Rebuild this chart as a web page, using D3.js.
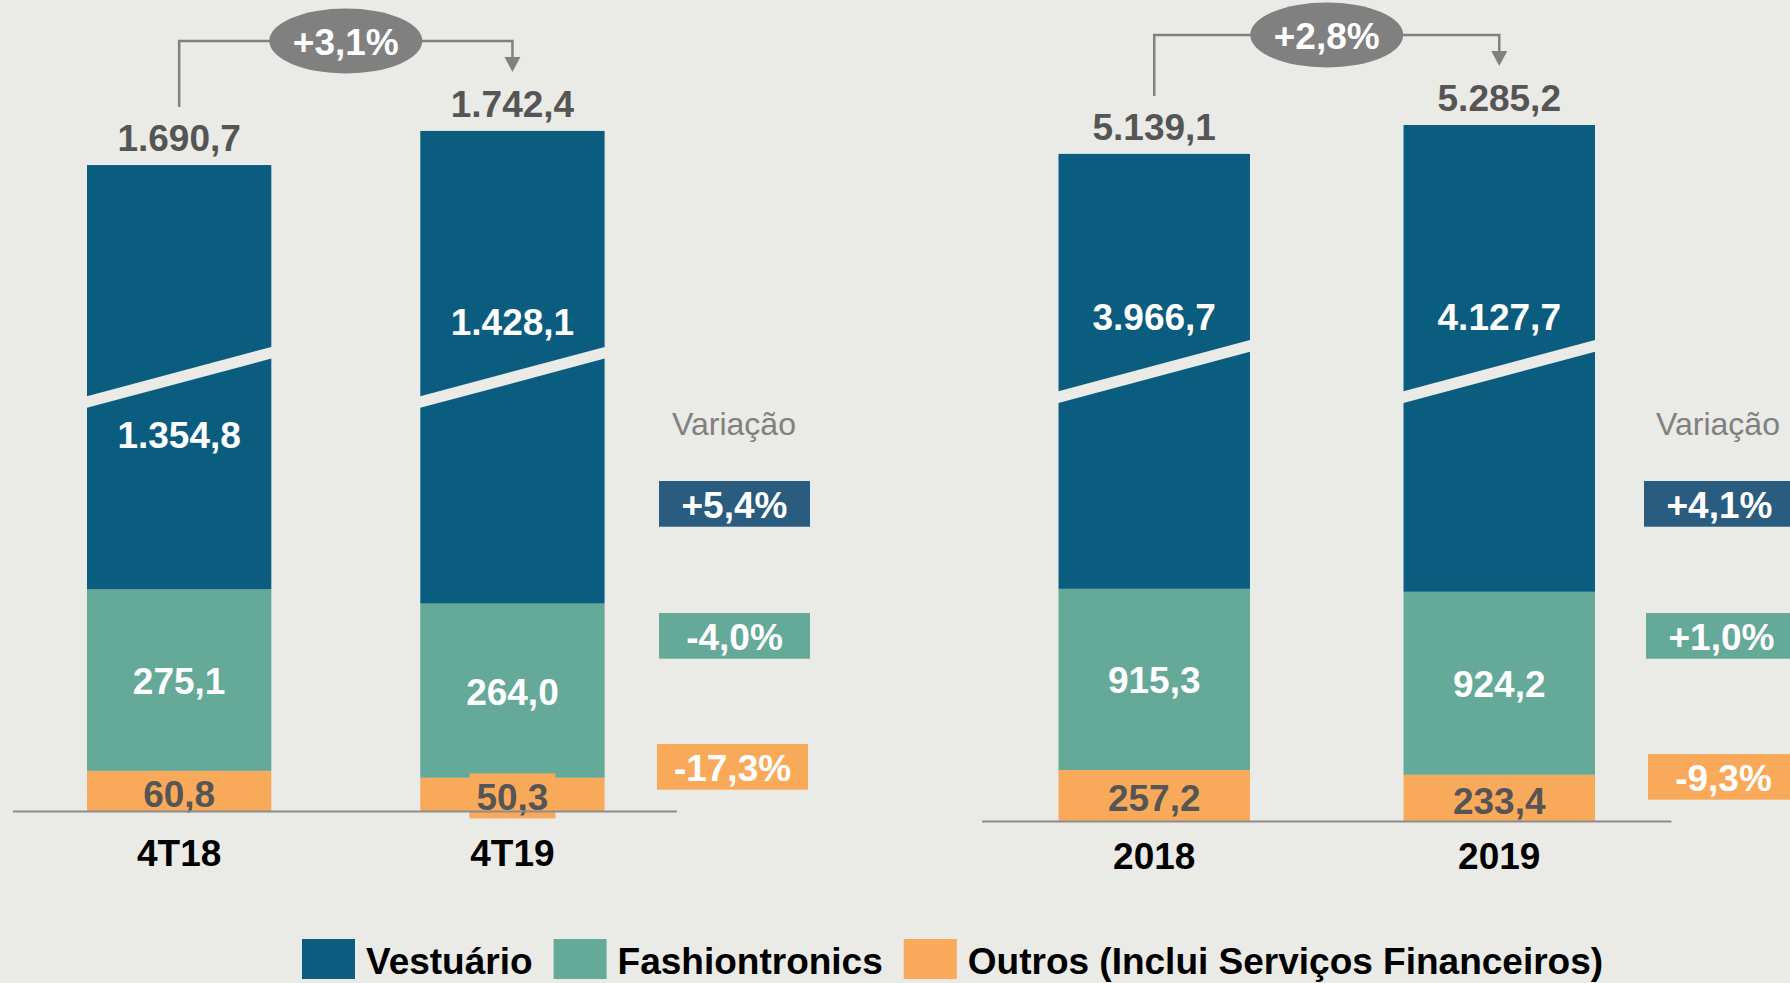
<!DOCTYPE html>
<html lang="pt">
<head>
    <meta charset="utf8">
    <script type="text/javascript" src="https://d3js.org/d3.v7.min.js"></script>
    <title>Receita bruta por segmento</title>
    <style>
        body { margin: 0; background: #eaeae6; }
        svg { display: block; }
    </style>
</head>
<body>
    <div class="chart"></div>
</body>
<script type="text/javascript">
    // dados
    var series = ["Vestuário", "Fashiontronics", "Outros (Inclui Serviços Financeiros)"];
    var colors = ["#0b5d80", "#65a998", "#f8aa5a"];
    var boxColors = ["#2a5c7f", "#65a998", "#f8aa5a"];

    var quarterCats = ["4T18", "4T19"];
    var quarterVest = [1354.8, 1428.1];
    var quarterFash = [275.1, 264.0];
    var quarterOutros = [60.8, 50.3];
    var quarterTotal = [1690.7, 1742.4];
    var quarterVar = ["+5,4%", "-4,0%", "-17,3%"];
    var quarterGrowth = "+3,1%";

    var yearCats = ["2018", "2019"];
    var yearVest = [3966.7, 4127.7];
    var yearFash = [915.3, 924.2];
    var yearOutros = [257.2, 233.4];
    var yearTotal = [5139.1, 5285.2];
    var yearVar = ["+4,1%", "+1,0%", "-9,3%"];
    var yearGrowth = "+2,8%";

    // SVG
    var width = 1790, height = 983;
    var fs = 37;
    var svg = d3.select("body div.chart")
        .append("svg")
        .attr("width", width)
        .attr("height", height)
        .style("background", "#eaeae6")
        .style("font-family", "Arial, 'Liberation Sans', sans-serif");

    var br = d3.formatLocale({decimal: ",", thousands: ".", grouping: [3], currency: ["R$", ""]});
    var fmt = br.format(",.1f");

    // paineis (eixo quebrado: valores entre breakAt e breakAt+cut ficam escondidos)
    var panels = [
        {cats: quarterCats, vest: quarterVest, fash: quarterFash, outros: quarterOutros, total: quarterTotal,
         vars: quarterVar, growth: quarterGrowth,
         xRange: [87, 604.6], pad: 0.447, base: 811, pxPerUnit: 0.66, cut: 712, breakAt: 657,
         lineX: [13, 677], vestPos: ["below", "above"], catDy: 55,
         varX: 734, boxX: [659, 659, 657], boxY: [481, 613, 744]},
        {cats: yearCats, vest: yearVest, fash: yearFash, outros: yearOutros, total: yearTotal,
         vars: yearVar, growth: yearGrowth,
         xRange: [1058.5, 1595], pad: 0.445, base: 821, pxPerUnit: 0.198, cut: 1770, breakAt: 2270,
         lineX: [982, 1671.5], vestPos: ["above", "above"], catDy: 48,
         varX: 1718, boxX: [1644, 1646, 1648], boxY: [481, 613, 754]}
    ];

    var slope = 0.267, gap = 11.7;

    panels.forEach(function(p){
        var x = d3.scaleBand().domain(p.cats).range(p.xRange).paddingInner(p.pad).paddingOuter(0);
        var y = d3.scaleLinear().domain([0, 1000]).range([p.base, p.base - 1000 * p.pxPerUnit]);
        var yb = function(v){ return v < p.breakAt ? y(v) : y(v - p.cut); };
        var bw = x.bandwidth();
        var g = svg.append("g");

        p.cats.forEach(function(c, i){
            var x0 = x(c), cx = x0 + bw / 2;
            var segs = [
                {v0: 0, v1: p.outros[i], k: 2},
                {v0: p.outros[i], v1: p.outros[i] + p.fash[i], k: 1},
                {v0: p.outros[i] + p.fash[i], v1: p.total[i], k: 0}
            ];
            segs.forEach(function(s){
                g.append("rect")
                    .attr("x", x0).attr("width", bw)
                    .attr("y", yb(s.v1)).attr("height", yb(s.v0) - yb(s.v1))
                    .attr("fill", colors[s.k]);
            });

            // quebra
            var yc = y(p.breakAt);
            var xl = x0 - 1, xr = x0 + bw + 1;
            var yl = yc + slope * (cx - xl), yr = yc - slope * (xr - cx);
            g.append("polygon")
                .attr("points", [[xl, yl - gap/2], [xr, yr - gap/2], [xr, yr + gap/2], [xl, yl + gap/2]].join(" "))
                .attr("fill", "#eaeae6");

            // rotulos
            var vy = p.vestPos[i] == "above" ? yc - 42 : yc + 71;
            g.append("text").attr("x", cx).attr("y", vy)
                .attr("text-anchor", "middle").attr("font-size", fs).attr("font-weight", "bold")
                .attr("fill", "#fff").text(fmt(p.vest[i]));

            var fy = (yb(segs[1].v0) + yb(segs[1].v1)) / 2 + 1;
            g.append("text").attr("x", cx).attr("y", fy).attr("dy", "0.35em")
                .attr("text-anchor", "middle").attr("font-size", fs).attr("font-weight", "bold")
                .attr("fill", "#fff").text(fmt(p.fash[i]));

            var oy = (yb(0) + yb(p.outros[i])) / 2 + 3;
            var oh = yb(0) - yb(p.outros[i]);
            var ot = g.append("text").attr("x", cx).attr("y", oy).attr("dy", "0.35em")
                .attr("text-anchor", "middle").attr("font-size", fs).attr("font-weight", "bold")
                .attr("fill", "#555").text(fmt(p.outros[i]));
            if (oh < 36) {
                var tw = ot.node().getComputedTextLength();
                g.insert("rect", function(){ return ot.node(); })
                    .attr("x", cx - tw / 2 - 7).attr("width", tw + 14)
                    .attr("y", oy - 24).attr("height", 45)
                    .attr("fill", colors[2]);
            }

            // total
            g.append("text").attr("x", cx).attr("y", yb(p.total[i]) - 14)
                .attr("text-anchor", "middle").attr("font-size", fs).attr("font-weight", "bold")
                .attr("fill", "#555").text(fmt(p.total[i]));

            // categoria
            g.append("text").attr("x", cx).attr("y", p.base + p.catDy)
                .attr("text-anchor", "middle").attr("font-size", fs).attr("font-weight", "bold")
                .attr("fill", "#000").text(c);
        });

        // linha base
        g.append("line")
            .attr("x1", p.lineX[0]).attr("x2", p.lineX[1])
            .attr("y1", p.base + 0.5).attr("y2", p.base + 0.5)
            .attr("stroke", "#8c8c8c").attr("stroke-width", 2);

        // seta de crescimento
        var c1 = x(p.cats[0]) + bw / 2, c2 = x(p.cats[1]) + bw / 2;
        var t1 = yb(p.total[0]) - 14, t2 = yb(p.total[1]) - 14;
        var ly = Math.min(yb(p.total[0]), yb(p.total[1])) - 90;
        var tip = t2 - 45;
        g.append("path")
            .attr("d", "M" + c1 + "," + (t1 - 44) + "V" + ly + "H" + c2 + "V" + (tip - 14))
            .attr("fill", "none").attr("stroke", "#808080").attr("stroke-width", 2.5);
        g.append("polygon")
            .attr("points", [[c2 - 8, tip - 15], [c2 + 8, tip - 15], [c2, tip]].join(" "))
            .attr("fill", "#808080");
        g.append("ellipse")
            .attr("cx", (c1 + c2) / 2).attr("cy", ly).attr("rx", 76.5).attr("ry", 32.5)
            .attr("fill", "#808080");
        g.append("text").attr("x", (c1 + c2) / 2).attr("y", ly + 1).attr("dy", "0.36em")
            .attr("text-anchor", "middle").attr("font-size", fs).attr("font-weight", "bold")
            .attr("fill", "#fff").text(p.growth);

        // variacao
        g.append("text").attr("x", p.varX).attr("y", 435)
            .attr("text-anchor", "middle").attr("font-size", 32)
            .attr("fill", "#808080").text("Variação");
        p.vars.forEach(function(v, k){
            g.append("rect")
                .attr("x", p.boxX[k]).attr("y", p.boxY[k])
                .attr("width", 151).attr("height", 45.7)
                .attr("fill", boxColors[k]);
            g.append("text")
                .attr("x", p.boxX[k] + 75.5).attr("y", p.boxY[k] + 22.85).attr("dy", "0.38em")
                .attr("text-anchor", "middle").attr("font-size", fs).attr("font-weight", "bold")
                .attr("fill", "#fff").text(v);
        });
    });

    // legenda
    var legend = svg.append("g");
    var lx = 302;
    series.forEach(function(s, k){
        legend.append("rect")
            .attr("x", lx).attr("y", 939).attr("width", 53).attr("height", 40)
            .attr("fill", colors[k]);
        var t = legend.append("text")
            .attr("x", lx + 64).attr("y", 974)
            .attr("font-size", 37).attr("font-weight", "bold")
            .attr("fill", "#000").text(s);
        lx = lx + 64 + t.node().getComputedTextLength() + 21;
    });
</script>
</html>
